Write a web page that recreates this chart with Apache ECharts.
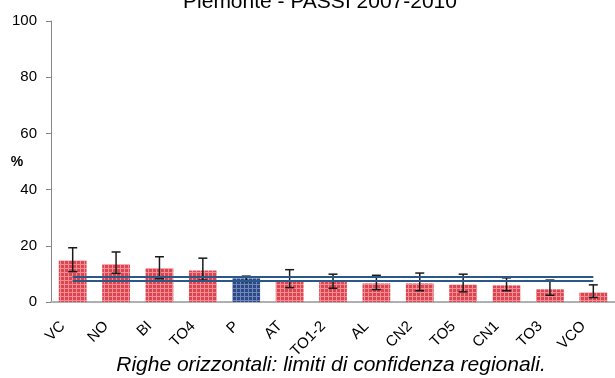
<!DOCTYPE html>
<html>
<head>
<meta charset="utf-8">
<script src="https://cdn.jsdelivr.net/npm/echarts@6/dist/echarts.min.js"></script>
<style>
  html, body { margin: 0; padding: 0; background: #fff; }
  #chart { width: 615px; height: 378px; }
</style>
</head>
<body>
<div id="chart"></div>
<script>
const titleText = 'Piemonte - PASSI 2007-2010';
const footerText = 'Righe orizzontali: limiti di confidenza regionali.';
const categories = ['VC', 'NO', 'BI', 'TO4', 'P', 'AT', 'TO1-2', 'AL', 'CN2', 'TO5', 'CN1', 'TO3', 'VCO'];
const values = [14.8, 13.4, 12.0, 11.2, 8.4, 7.7, 7.1, 6.6, 6.6, 6.2, 5.9, 4.5, 3.4];
const upper  = [19.3, 17.8, 16.1, 15.6, 9.2, 11.5, 9.9, 9.5, 10.3, 9.9, 8.6, 7.8, 6.1];
const lower  = [10.8, 10.2, 8.3, 7.8, 7.3, 5.1, 4.9, 4.4, 4.0, 3.6, 4.0, 2.4, 1.6];
const regionalLimits = [7.4, 9.1];
const regionCategory = 'P';
const yTicks = [0, 20, 40, 60, 80, 100];

function pattern(base, line) {
  const c = document.createElement('canvas');
  c.width = 4; c.height = 4;
  const g = c.getContext('2d');
  g.fillStyle = base; g.fillRect(0, 0, 4, 4);
  g.fillStyle = line; g.fillRect(0, 0, 4, 1); g.fillRect(0, 0, 1, 4);
  return { image: c, repeat: 'repeat' };
}
const redPat = pattern('#dc4450', '#ef8e95');
const bluePat = pattern('#2c4887', '#6f86b8');

const chart = echarts.init(document.getElementById('chart'), null, { renderer: 'canvas' });
const font = '"Liberation Sans", Arial, sans-serif';

chart.setOption({
  animation: false,
  backgroundColor: '#ffffff',
  textStyle: { fontFamily: font },
  grid: { left: 51, top: 21, width: 570, height: 281, containLabel: false },
  xAxis: {
    type: 'category',
    data: categories,
    boundaryGap: true,
    axisLine: { show: true, lineStyle: { color: '#b0b0b0', width: 2 } },
    axisTick: { show: false },
    axisLabel: { rotate: 45, interval: 0, fontSize: 15, color: '#000', margin: 12, padding: [0, 14, 0, 0], fontFamily: font }
  },
  yAxis: {
    type: 'value',
    min: yTicks[0], max: yTicks[yTicks.length - 1], interval: 20,
    splitLine: { show: false },
    axisLine: { show: true, lineStyle: { color: '#868686', width: 1 } },
    axisTick: { show: true, length: 5, lineStyle: { color: '#868686' } },
    axisLabel: { fontSize: 15, color: '#000', margin: 14, fontFamily: font }
  },
  series: [
    {
      type: 'bar',
      barWidth: '64%',
      data: values.map((v, i) => ({
        value: v,
        itemStyle: { color: categories[i] === regionCategory ? bluePat : redPat }
      })),
      z: 2
    },
    {
      type: 'custom',
      z: 3,
      data: categories.map((c, i) => [i, lower[i], upper[i]]),
      encode: { x: 0, y: [1, 2] },
      renderItem: function (params, api) {
        const x = api.value(0);
        const lo = api.coord([x, api.value(1)]);
        const hi = api.coord([x, api.value(2)]);
        const hw = 4.5;
        const style = { stroke: '#1a1a1a', lineWidth: 1.5 };
        return {
          type: 'group',
          children: [
            { type: 'line', shape: { x1: lo[0], y1: lo[1], x2: hi[0], y2: hi[1] }, style: style },
            { type: 'line', shape: { x1: hi[0] - hw, y1: hi[1], x2: hi[0] + hw, y2: hi[1] }, style: style },
            { type: 'line', shape: { x1: lo[0] - hw, y1: lo[1], x2: lo[0] + hw, y2: lo[1] }, style: style }
          ]
        };
      }
    },
    {
      type: 'line',
      data: [],
      z: 5,
      markLine: {
        silent: true,
        symbol: ['none', 'none'],
        label: { show: false },
        lineStyle: { color: '#2a5889', width: 2, type: 'solid' },
        data: regionalLimits.map(v => [
          { coord: [categories[0], v] },
          { coord: [categories[categories.length - 1], v] }
        ])
      }
    }
  ],
  graphic: [
    {
      type: 'text', x: 320, y: 2,
      style: { text: titleText, font: '21px ' + font, fill: '#000', align: 'center', verticalAlign: 'middle' }
    },
    {
      type: 'text', x: 17, y: 162,
      style: { text: '%', font: 'bold 14px ' + font, fill: '#000', align: 'center', verticalAlign: 'middle' }
    },
    {
      type: 'text', x: 331, y: 365,
      style: { text: footerText, font: 'italic 21px ' + font, fill: '#000', align: 'center', verticalAlign: 'middle' }
    }
  ]
});
</script>
</body>
</html>
